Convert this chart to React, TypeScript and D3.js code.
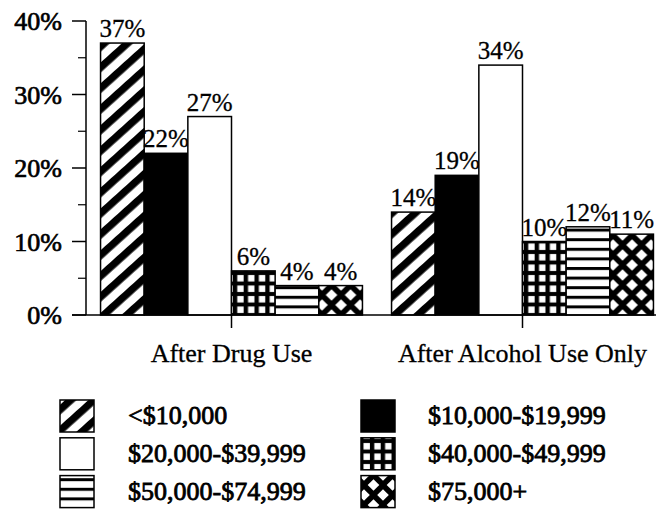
import React from "react";
import * as d3 from "d3";

const categories = ["After Drug Use", "After Alcohol Use Only"];
const seriesNames = [
  "<$10,000",
  "$10,000-$19,999",
  "$20,000-$39,999",
  "$40,000-$49,999",
  "$50,000-$74,999",
  "$75,000+",
];
const drugValues = [37, 22, 27, 6, 4, 4];
const alcoholValues = [14, 19, 34, 10, 12, 11];
const yTicks = [0, 10, 20, 30, 40];
const yMinorTicks = [5, 15, 25, 35];

const W = 656;
const H = 510;
const FONT = "'Liberation Serif', 'Times New Roman', serif";

const fills = [
  "url(#pDiag)",
  "#000",
  "#fff",
  "url(#pGrid)",
  "url(#pHLines)",
  "url(#pDiamond)",
];

export default function App() {
  const values = [drugValues, alcoholValues];
  const x0 = d3
    .scaleBand<string>()
    .domain(categories)
    .range([86, 668])
    .paddingInner(0.1)
    .paddingOuter(0.05);
  const x1 = d3
    .scaleBand<string>()
    .domain(seriesNames)
    .range([0, x0.bandwidth()])
    .padding(0);
  const y = d3.scaleLinear().domain([0, 40]).range([315, 21]);
  const axisX = 86;
  const baseY = y(0);

  return (
    <svg
      width={W}
      height={H}
      style={{ position: "absolute", left: 0, top: 0, background: "#fff" }}
      fontFamily={FONT}
    >
      <defs>
        <pattern
          id="pDiag"
          patternUnits="userSpaceOnUse"
          width={15.5}
          height={15.5}
          patternTransform="rotate(48)"
        >
          <rect width={15.5} height={15.5} fill="#fff" />
          <rect width={7.4} height={15.5} fill="#000" />
        </pattern>
        <pattern
          id="pGrid"
          patternUnits="userSpaceOnUse"
          x={231.5}
          y={315}
          width={10.8}
          height={10.5}
        >
          <rect width={10.8} height={10.5} fill="#000" />
          <rect x={2.4} y={2} width={6.4} height={6.5} fill="#fff" />
        </pattern>
        <pattern
          id="pHLines"
          patternUnits="userSpaceOnUse"
          y={315}
          width={10}
          height={9.6}
        >
          <rect width={10} height={9.6} fill="#fff" />
          <rect y={0} width={10} height={3} fill="#000" />
        </pattern>
        <pattern
          id="pDiamond"
          patternUnits="userSpaceOnUse"
          x={611}
          y={315}
          width={19}
          height={20}
        >
          <rect width={19} height={20} fill="#000" />
          <polygon points="9.5,4.2 15.3,10 9.5,15.8 3.7,10" fill="#fff" />
          <polygon points="0,-5.8 5.8,0 0,5.8 -5.8,0" fill="#fff" />
          <polygon points="19,-5.8 24.8,0 19,5.8 13.2,0" fill="#fff" />
          <polygon points="0,14.2 5.8,20 0,25.8 -5.8,20" fill="#fff" />
          <polygon points="19,14.2 24.8,20 19,25.8 13.2,20" fill="#fff" />
        </pattern>
      </defs>

      {/* bars */}
      {categories.map((c, ci) => (
        <g key={c} transform={`translate(${x0(c)},0)`}>
          {seriesNames.map((s, si) => {
            const v = values[ci][si];
            const bx = x1(s) as number;
            return (
              <g key={s}>
                <rect
                  x={bx}
                  y={y(v)}
                  width={x1.bandwidth()}
                  height={baseY - y(v)}
                  fill={fills[si]}
                  stroke="#000"
                  strokeWidth={1.5}
                />
                <text
                  x={bx + x1.bandwidth() / 2}
                  y={y(v) - 6}
                  textAnchor="middle"
                  fontSize={25}
                  fill="#000"
                  stroke="#000"
                  strokeWidth={0.3}
                >
                  {v}%
                </text>
              </g>
            );
          })}
        </g>
      ))}

      {/* y axis */}
      <line x1={axisX} x2={axisX} y1={y(40)} y2={baseY} stroke="#000" strokeWidth={1.5} />
      {yTicks.map((t) => (
        <g key={t}>
          <line x1={72} x2={axisX} y1={y(t)} y2={y(t)} stroke="#000" strokeWidth={1.5} />
          <text
            x={62}
            y={y(t)}
            dy="0.36em"
            textAnchor="end"
            fontSize={26}
            fill="#000"
            stroke="#000"
            strokeWidth={0.7}
          >
            {t}%
          </text>
        </g>
      ))}
      {yMinorTicks.map((t) => (
        <line key={t} x1={78} x2={axisX} y1={y(t)} y2={y(t)} stroke="#000" strokeWidth={1.2} />
      ))}

      {/* x axis */}
      <line x1={72} x2={W} y1={baseY} y2={baseY} stroke="#000" strokeWidth={1.5} />
      {categories.map((c) => {
        const cx = (x0(c) as number) + x0.bandwidth() / 2;
        return (
          <g key={c}>
            <line x1={cx} x2={cx} y1={baseY} y2={baseY + 13} stroke="#000" strokeWidth={1.5} />
            <text
              x={cx}
              y={362}
              textAnchor="middle"
              fontSize={26}
              fill="#000"
              stroke="#000"
              strokeWidth={0.3}
            >
              {c}
            </text>
          </g>
        );
      })}

      {/* legend */}
      {seriesNames.map((s, i) => {
        const col = i % 2;
        const row = Math.floor(i / 2);
        const sx = col === 0 ? 60 : 361;
        const tx = col === 0 ? 128 : 428;
        const base = 424 + row * 37.8;
        return (
          <g key={s}>
            <rect
              x={sx}
              y={base - 24}
              width={34}
              height={32}
              fill={fills[i]}
              stroke="#000"
              strokeWidth={1.5}
            />
            <text
              x={tx}
              y={base}
              fontSize={26}
              fill="#000"
              stroke="#000"
              strokeWidth={0.8}
            >
              {s}
            </text>
          </g>
        );
      })}
    </svg>
  );
}
